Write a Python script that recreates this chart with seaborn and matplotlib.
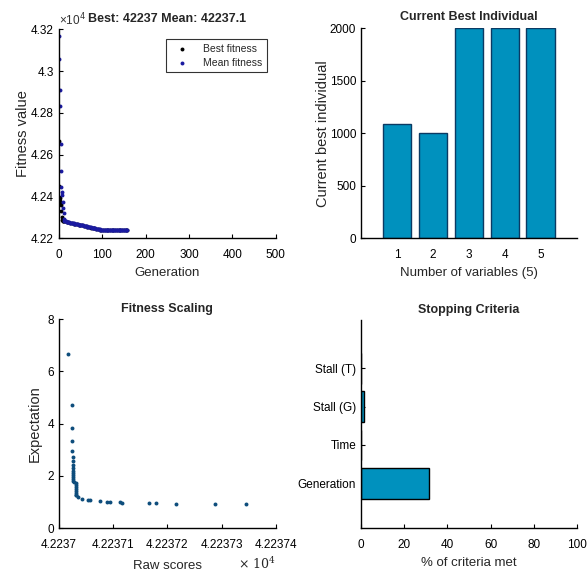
import matplotlib
matplotlib.use("Agg")
import matplotlib.pyplot as plt
import seaborn as sns
import pandas as pd

# ---- data ----
# GA progress (generation, fitness value)
best_gen = [0, 1, 2, 3, 4, 5, 6, 7, 8, 9, 10, 12, 14, 18, 22, 26, 30, 34, 38, 42, 46, 50,
            54, 58, 62, 66, 70, 74, 78, 82, 86, 90, 94, 98, 102, 106, 110, 114, 118, 122,
            126, 130, 134, 138, 142, 146, 150, 154, 158]
best_fit = [42664, 42450, 42392, 42380, 42370, 42360, 42330, 42300, 42286, 42283, 42282,
            42281, 42280, 42278, 42276, 42274, 42272, 42270, 42268, 42266, 42264, 42262,
            42261, 42259, 42257, 42255, 42253, 42251, 42249, 42247, 42245, 42243, 42241,
            42239, 42238, 42237.5, 42237.2, 42237, 42237, 42237, 42237, 42237, 42237,
            42237, 42237, 42237, 42237, 42237, 42237]

mean_gen = [0, 1, 2, 3, 4, 5, 6, 7, 8, 9, 10, 11, 12, 13, 14, 16, 18, 20, 22, 24, 26, 28,
            30, 32, 34, 36, 38, 40, 42, 44, 46, 48, 50, 52, 54, 56, 58, 60, 62, 64, 66, 68,
            70, 72, 74, 76, 78, 80, 82, 84, 86, 88, 90, 92, 94, 96, 98, 100, 102, 104, 106,
            108, 110, 112, 114, 116, 118, 120, 122, 124, 126, 128, 130, 132, 134, 136, 138,
            140, 142, 144, 146, 148, 150, 152, 154, 156, 158]
mean_fit = [43166, 43056, 42911, 42832, 42653, 42522, 42446, 42420, 42406, 42374, 42345,
            42321, 42290, 42283, 42281, 42280, 42279, 42278, 42277, 42276, 42275, 42274.5,
            42273, 42272, 42271, 42270, 42269, 42268, 42267, 42266, 42265, 42264, 42263,
            42262, 42262, 42261, 42260, 42259, 42258, 42257, 42256, 42255, 42254, 42253,
            42252, 42251, 42250, 42249, 42248, 42247, 42246, 42245, 42244, 42243, 42242,
            42241, 42240, 42240, 42239, 42239, 42238, 42238, 42238, 42237.6, 42237.5,
            42237.4, 42237.3, 42237.3, 42237.2, 42237.2, 42237.2, 42237.2, 42237.1,
            42237.1, 42237.1, 42237.1, 42237.1, 42237.1, 42237.1, 42237.1, 42237.1,
            42237.1, 42237.1, 42237.1, 42237.1, 42237.1, 42237.1]

# current best individual
var_idx = [1, 2, 3, 4, 5]
var_val = [1085, 1000, 2000, 2000, 2000]

# fitness scaling (raw score, expectation)
raw_scores = [42237.0166, 42237.0240, 42237.0240, 42237.0240, 42237.0246, 42237.0271,
              42237.0271, 42237.0271, 42237.0271, 42237.0271, 42237.0271, 42237.0271,
              42237.0271, 42237.0271, 42237.0271, 42237.0277, 42237.0308, 42237.0308,
              42237.0308, 42237.0308, 42237.0308, 42237.0308, 42237.0308, 42237.0308,
              42237.0351, 42237.0431, 42237.0535, 42237.0578, 42237.0757, 42237.0892,
              42237.0935, 42237.1120, 42237.1157, 42237.1662, 42237.1797, 42237.2154,
              42237.2874, 42237.3458]
expectation = [6.67, 4.71, 3.84, 3.33, 2.97, 2.71, 2.55, 2.42, 2.30, 2.20, 2.10, 2.02,
               1.95, 1.88, 1.80, 1.75, 1.72, 1.65, 1.58, 1.50, 1.42, 1.35, 1.28, 1.25,
               1.19, 1.13, 1.06, 1.06, 1.02, 1.00, 1.00, 0.99, 0.97, 0.96, 0.96, 0.93,
               0.92, 0.91]
raw_ticks = [42237.0, 42237.1, 42237.2, 42237.3, 42237.4]
raw_tick_labels = ["4.2237", "4.22371", "4.22372", "4.22373", "4.22374"]

# stopping criteria
crit_names = ["Generation", "Time", "Stall (G)", "Stall (T)"]
crit_pos = [1, 2, 3, 4]
crit_pct = [31.7, 0, 1.5, 0]

fit_ticks = [42200, 42400, 42600, 42800, 43000, 43200]
fit_tick_labels = ["4.22", "4.24", "4.26", "4.28", "4.3", "4.32"]

# ---- style ----
sns.set_style("ticks")
plt.rcParams["font.family"] = ["Liberation Sans", "DejaVu Sans"]
plt.rcParams["xtick.direction"] = "in"
plt.rcParams["ytick.direction"] = "in"
plt.rcParams["xtick.major.size"] = 3
plt.rcParams["ytick.major.size"] = 3
plt.rcParams["xtick.major.pad"] = 8
plt.rcParams["axes.edgecolor"] = "black"
plt.rcParams["axes.linewidth"] = 1.0

bar_color = "#0091be"
bar_edge = "#0b3a63"
tick_fs = 8.5
xlab_fs = 9.5
ylab_fs = 10.5
title_fs = 9

fig = plt.figure(figsize=(5.88, 5.74), dpi=100)
ax1 = fig.add_axes([0.100, 0.585, 0.369, 0.364])
ax2 = fig.add_axes([0.614, 0.585, 0.367, 0.366])
ax3 = fig.add_axes([0.100, 0.080, 0.369, 0.364])
ax4 = fig.add_axes([0.614, 0.080, 0.367, 0.362])

# ---- top left: fitness progress ----
best_df = pd.DataFrame({"gen": best_gen, "fit": best_fit})
mean_df = pd.DataFrame({"gen": mean_gen, "fit": mean_fit})
sns.scatterplot(data=best_df, x="gen", y="fit", ax=ax1, color="black", s=8,
                linewidth=0, label="Best fitness")
sns.scatterplot(data=mean_df, x="gen", y="fit", ax=ax1, color="#1a1aa0", s=8,
                linewidth=0, label="Mean fitness")
ax1.set_xlim(0, 500)
ax1.set_ylim(42200, 43200)
ax1.set_yticks(fit_ticks)
ax1.set_yticklabels(fit_tick_labels)
ax1.set_xticks([0, 100, 200, 300, 400, 500])
ax1.set_xlabel("Generation", fontsize=xlab_fs)
ax1.set_ylabel("Fitness value", fontsize=ylab_fs, labelpad=1)
ax1.set_title("Best: 42237 Mean: 42237.1", fontsize=title_fs, fontweight="bold", pad=5.5)
ax1.text(0.0, 1.005, "×10$^{4}$", transform=ax1.transAxes, fontsize=8.5,
         ha="left", va="bottom", color="#333333")
leg = ax1.legend(loc="upper right", bbox_to_anchor=(0.958, 0.952), borderaxespad=0,
                 fontsize=7.5, frameon=True, fancybox=False, edgecolor="black",
                 handlelength=2.2, handletextpad=0.9, borderpad=0.45, labelspacing=0.35)
leg.get_frame().set_linewidth(0.8)

# ---- top right: current best individual ----
sns.barplot(x=var_idx, y=var_val, ax=ax2, native_scale=True, width=0.8,
            color=bar_color, edgecolor=bar_edge, linewidth=1.0, saturation=1)
ax2.set_xlim(0, 6)
ax2.set_ylim(0, 2000)
ax2.set_xticks(var_idx)
ax2.set_yticks([0, 500, 1000, 1500, 2000])
ax2.set_xlabel("Number of variables (5)", fontsize=xlab_fs)
ax2.set_ylabel("Current best individual", fontsize=ylab_fs, labelpad=0)
ax2.set_title("Current Best Individual", fontsize=title_fs, fontweight="bold", pad=6)

# ---- bottom left: fitness scaling ----
sns.scatterplot(x=raw_scores, y=expectation, ax=ax3, color="#0e4d7c", s=8, linewidth=0)
ax3.set_xlim(42237.0, 42237.4)
ax3.set_ylim(0, 8)
ax3.set_xticks(raw_ticks)
ax3.set_xticklabels(raw_tick_labels)
ax3.set_yticks([0, 2, 4, 6, 8])
ax3.set_xlabel("Raw scores", fontsize=xlab_fs, labelpad=6)
ax3.set_ylabel("Expectation", fontsize=ylab_fs)
ax3.set_title("Fitness Scaling", fontsize=title_fs, fontweight="bold", pad=5)
ax3.text(1.0, -0.17, "× 10$^{4}$", transform=ax3.transAxes, fontsize=9,
         ha="right", va="center", family="DejaVu Serif", math_fontfamily="dejavuserif")

# ---- bottom right: stopping criteria ----
sns.barplot(x=crit_pct, y=crit_pos, ax=ax4, orient="h", native_scale=True, width=0.8,
            color=bar_color, edgecolor="black", linewidth=1.0, saturation=1)
ax4.set_xlim(0, 100)
ax4.set_ylim(-0.17, 5.25)
ax4.set_yticks(crit_pos)
ax4.set_yticklabels(crit_names)
ax4.set_xticks([0, 20, 40, 60, 80, 100])
ax4.set_xlabel("% of criteria met", fontsize=xlab_fs)
ax4.set_ylabel("")
ax4.set_title("Stopping Criteria", fontsize=title_fs, fontweight="bold", pad=5.5)

for ax in (ax1, ax2, ax3, ax4):
    sns.despine(ax=ax)
    ax.tick_params(labelsize=tick_fs, colors="black", width=0.8)

fig.savefig("out.png", dpi=100)
